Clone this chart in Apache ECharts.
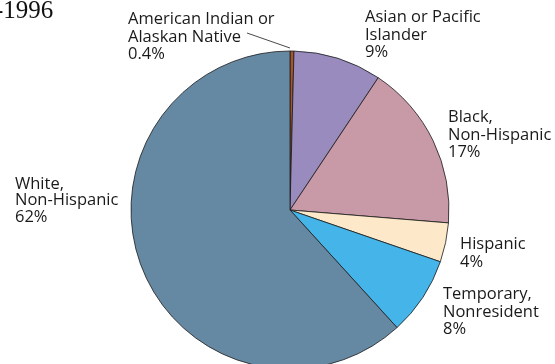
<!DOCTYPE html>
<html>
<head>
<meta charset="utf-8">
<script src="https://cdn.jsdelivr.net/npm/echarts@6/dist/echarts.min.js"></script>
<style>
  html, body { margin: 0; padding: 0; background: #fff; }
  #chart { width: 555px; height: 364px; }
</style>
</head>
<body>
<div id="chart"></div>
<script>
// Enrollment share by race/ethnicity, 1996
const groups = [
  'American Indian or\nAlaskan Native',
  'Asian or Pacific\nIslander',
  'Black,\nNon-Hispanic',
  'Hispanic',
  'Temporary,\nNonresident',
  'White,\nNon-Hispanic'
];
const shares = [0.4, 9, 17, 4, 8, 62];
const shareLabels = ['0.4%', '9%', '17%', '4%', '8%', '62%'];

const sliceColors = ['#a65428', '#998bbd', '#c89aa7', '#fde9c9', '#45b5e9', '#6689a3'];
// top-left corner of each label block
const labelSpots = [[128, 11], [365, 9], [448, 109], [460, 235], [443, 286], [15, 176]];
const lineGaps = [17.5, 17.5, 17.5, 18, 17.5, 16.5];

const chart = echarts.init(document.getElementById('chart'), null, { renderer: 'canvas' });

const fontFamily = '"Open Sans", "Noto Sans", sans-serif';
const titleText = {
  type: 'text',
  left: -5,
  top: -1,
  style: { text: '-1996', font: '25px "Liberation Serif", "DejaVu Serif", serif', fill: '#111' }
};

chart.setOption({
  animation: false,
  graphic: [titleText],
  series: [{
    type: 'pie',
    center: [290, 210],
    radius: 159,
    startAngle: 90,
    clockwise: true,
    avoidLabelOverlap: false,
    itemStyle: { borderColor: '#1a1a1a', borderWidth: 0.8 },
    label: {
      show: true,
      position: 'outside',
      color: '#1a1a1a',
      fontFamily: fontFamily,
      fontSize: 16.5,
      lineHeight: 17.5,
      formatter: p => groups[p.dataIndex] + '\n' + shareLabels[p.dataIndex]
    },
    labelLine: { show: false },
    labelLayout: p => ({
      x: labelSpots[p.dataIndex][0],
      y: labelSpots[p.dataIndex][1],
      align: 'left',
      verticalAlign: 'top'
    }),
    data: groups.map((g, i) => ({
      name: g,
      value: shares[i],
      itemStyle: { color: sliceColors[i] },
      label: { lineHeight: lineGaps[i] }
    }))
  }]
});

// leader from the smallest slice's rim to its label
const layout = chart.getModel().getSeriesByIndex(0).getData().getItemLayout(0);
const mid = (layout.startAngle + layout.endAngle) / 2;
const rimX = layout.cx + layout.r * Math.cos(mid);
const rimY = layout.cy + layout.r * Math.sin(mid);
chart.setOption({
  graphic: [titleText, {
    type: 'line',
    shape: { x1: 247, y1: 33, x2: rimX - 2, y2: rimY - 3 },
    style: { stroke: '#1a1a1a', lineWidth: 0.8 }
  }]
});
</script>
</body>
</html>
